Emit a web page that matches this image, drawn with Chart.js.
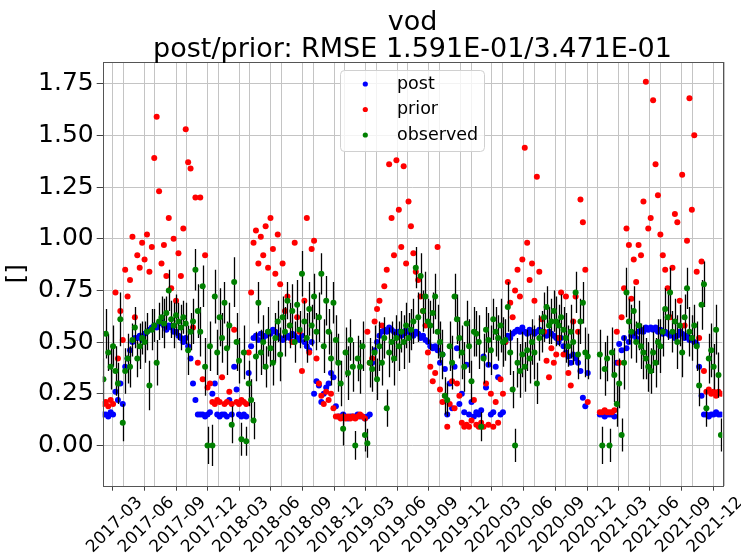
<!DOCTYPE html>
<html>
<head>
<meta charset="utf-8">
<script src="https://cdn.jsdelivr.net/npm/chart.js@4.4.0/dist/chart.umd.min.js"></script>
<style>
  html, body { margin: 0; padding: 0; background: #fff; }
  canvas { display: block; }
</style>
</head>
<body>
<canvas id="chart" width="741" height="558"></canvas>
<script>
// weekly samples, first one on this date
const firstDate = '2017-02-02';
const stepDays = 7;

const post = [
  0.15, 0.15, 0.14, 0.16, 0.15,
  0.26, 0.22, 0.30, 0.20, 0.38, 0.42, 0.46,
  0.50, 0.52, 0.52, 0.53, 0.51, 0.54, 0.55, 0.56, 0.57, 0.58, 0.57, 0.59, 0.60, 0.58, 0.56, 0.58, 0.57, 0.55,
  0.55, 0.53, 0.52, 0.50, 0.52, 0.48,
  0.42, 0.30, 0.22, 0.15,
  0.15, 0.15, 0.14, 0.15, 0.16, 0.25, 0.30, 0.15, 0.14, 0.15, 0.15, 0.14, 0.22, 0.15, 0.38, 0.27, 0.15, 0.14, 0.15, 0.14,
  0.35, 0.48,
  0.52, 0.53, 0.51, 0.54, 0.52, 0.53, 0.55, 0.54, 0.56, 0.55, 0.53, 0.52, 0.51, 0.52, 0.53, 0.52, 0.54, 0.53, 0.52, 0.51, 0.53, 0.50, 0.48, 0.46, 0.50,
  0.25, 0.31, 0.29, 0.21, 0.25, 0.28, 0.30, 0.35, 0.33, 0.19,
  0.14, 0.14, 0.15, 0.14, 0.13, 0.14, 0.14, 0.14, 0.15, 0.14, 0.14, 0.13, 0.14, 0.15,
  0.40, 0.46, 0.50, 0.53, 0.55,
  0.56, 0.55, 0.57, 0.56, 0.55, 0.54, 0.55, 0.53, 0.54, 0.56, 0.55, 0.54, 0.53, 0.55, 0.54, 0.52, 0.53, 0.51, 0.50, 0.48,
  0.47, 0.48, 0.46, 0.40, 0.44, 0.37, 0.15, 0.30, 0.18, 0.38, 0.47, 0.20, 0.25, 0.16, 0.39,
  0.15, 0.21, 0.14, 0.16, 0.15, 0.17, 0.43, 0.28, 0.39, 0.15, 0.16, 0.38, 0.33, 0.15, 0.16,
  0.50, 0.53,
  0.52, 0.54, 0.55, 0.56, 0.55, 0.57, 0.55, 0.54, 0.56, 0.55, 0.54, 0.55, 0.56, 0.55, 0.54, 0.53, 0.55, 0.54, 0.53, 0.52, 0.50, 0.52, 0.48,
  0.45, 0.43, 0.40, 0.44, 0.42, 0.40, 0.36, 0.23, 0.19,
  0.35,
  null, null, null, null,
  0.15, 0.15, 0.14, 0.15, 0.15, 0.15, 0.14,
  0.40, 0.49, 0.46, 0.52,
  0.47, 0.50, 0.53, 0.54, 0.52, 0.55, 0.56, 0.55, 0.57, 0.56, 0.57, 0.56, 0.57, 0.55, 0.56, 0.54,
  0.55, 0.54, 0.53, 0.54, 0.52, 0.53, 0.55, 0.54, 0.52, 0.53, 0.51, 0.52, 0.50,
  0.49, 0.38, 0.24, 0.15, 0.15, 0.14, 0.15, 0.15, 0.16, 0.15, 0.15
];

const prior = [
  0.20, 0.21, 0.19, 0.22, 0.20,
  0.74, 0.42, 0.65, 0.51, 0.85, 0.72, 0.80, 1.01, 0.62, 0.92, 0.86, 0.98, 0.90, 1.02, 0.84, 0.96,
  1.39, 1.59, 1.23, 0.88, 0.97, 0.82, 1.10, 0.76, 1.00, 0.70, 0.93, 0.82, 1.05, 1.53, 1.37, 1.34,
  0.57, 1.20, 0.40, 1.20, 0.32, 0.92, 0.28,
  0.30, 0.21, 0.20, 0.22, 0.21, 0.33, 0.20, 0.21, 0.26, 0.20, 0.56, 0.21, 0.20, 0.22, 0.21, 0.20,
  0.45,
  0.74, 0.98, 1.04, 0.88, 1.01, 0.92, 1.06, 0.86, 1.10, 0.95, 0.83, 1.02, 0.78,
  0.88, 0.65, 0.72, 0.58, 0.50, 0.98, 0.62, 0.55, 0.36, 0.70, 1.10, 0.45, 0.95, 0.99, 0.42, 0.30,
  0.24, 0.20, 0.26, 0.22, 0.25, 0.18, 0.14,
  0.14, 0.13, 0.14, 0.13, 0.14, 0.13, 0.14, 0.13, 0.14, 0.15, 0.14, 0.13,
  0.55, 0.40, 0.42, 0.60, 0.66, 0.70, 0.58, 0.77,
  0.85, 1.36, 1.10, 0.92, 1.38, 1.14, 0.96, 1.35, 0.88,
  1.18, 1.06, 0.93, 0.84, 0.80, 0.72, 0.65, 0.58, 0.45, 0.38,
  0.31, 0.35, 0.96, 0.27, 0.21, 0.24, 0.09, 0.20, 0.31, 0.18, 0.30, 0.24,
  0.11, 0.09, 0.10, 0.09, 0.12, 0.22, 0.10, 0.09, 0.11, 0.09, 0.30, 0.10, 0.25, 0.09, 0.21, 0.11, 0.32, 0.25,
  0.50, 0.79, 0.69, 0.62, 0.75, 0.85, 0.72, 0.90, 1.44, 0.98, 0.80, 0.88, 0.70, 1.30, 0.84, 0.61,
  0.55, 0.41, 0.33, 0.47, 0.40, 0.44, 0.52, 0.74,
  0.44, 0.72, 0.35, 0.29, 0.60, 0.72, 0.55, 1.19, 1.08, 0.85, 0.21,
  null, null, null, null,
  0.16, 0.16, 0.17, 0.16, 0.16, 0.16, 0.17,
  0.55, 0.40, 0.62, 0.76, 1.05, 0.97, 0.71, 0.90, 0.79, 0.97, 0.92, 1.18, 1.76, 1.05, 1.10, 1.67,
  1.36, 1.21, 1.02, 0.92, 0.85, 0.76,
  0.62, 0.86, 1.12, 1.08, 0.70, 1.31, 0.58, 0.99, 1.68, 1.14, 1.50, 0.84, 0.52, 0.89,
  0.36, 0.26, 0.27, 0.25, 0.26, 0.24, 0.26, 0.25
];

const observed = [
  0.32, 0.54, 0.45, 0.38, 0.48,
  0.36, 0.30, 0.61, 0.11, 0.36, 0.42, 0.38, 0.51, 0.57, 0.42, 0.48, 0.52, 0.50, 0.55, 0.29, 0.56,
  0.58, 0.40, 0.60, 0.62, 0.59, 0.64, 0.75, 0.61, 0.58, 0.63, 0.60, 0.57, 0.62, 0.59, 0.46, 0.55,
  0.60, 0.85, 0.65, 0.55, 0.77, 0.38,
  0.00, 0.48, 0.00, 0.72, 0.45, 0.62, 0.52, 0.69, 0.47, 0.58, 0.10, 0.79, 0.50, 0.41, 0.03, 0.45, 0.02,
  0.30, 0.22, 0.12, 0.43, 0.69, 0.45, 0.50, 0.38, 0.55, 0.47, 0.40, 0.52, 0.60, 0.44,
  0.62, 0.55, 0.70, 0.58, 0.65, 0.50, 0.68, 0.56, 0.83, 0.60, 0.52, 0.66, 0.58, 0.72, 0.55, 0.62, 0.83, 0.48,
  0.70, 0.55, 0.42, 0.69, 0.51, 0.40, 0.30, 0.08, 0.45, 0.35, 0.51, 0.38, 0.00,
  0.42, 0.38, 0.48, 0.05, 0.01, 0.40, 0.37, 0.45, 0.32, 0.48, 0.40, 0.52, 0.18,
  0.45, 0.50, 0.42, 0.52, 0.48, 0.55, 0.50, 0.58, 0.52, 0.56, 0.60, 0.86, 0.62, 0.82, 0.65, 0.72, 0.60,
  0.58, 0.64, 0.72, 0.55, 0.50, 0.44, 0.24, 0.22, 0.48, 0.40, 0.72, 0.61, 0.52, 0.45, 0.38, 0.59,
  0.48, 0.31, 0.55, 0.54, 0.50, 0.09, 0.42, 0.56, 0.51, 0.46, 0.61, 0.55, 0.52, 0.58, 0.50, 0.51,
  0.67, 0.45, 0.27, 0.00, 0.40, 0.36, 0.44, 0.38, 0.46, 0.42, 0.50, 0.45, 0.30, 0.52, 0.55, 0.62,
  0.67, 0.58, 0.60, 0.65, 0.60, 0.58, 0.62,
  0.56, 0.52, 0.48, 0.55, 0.50, 0.74, 0.44, 0.60, 0.69, 0.45, 0.43,
  null, null, null, null,
  0.44, 0.00, 0.37, 0.42, 0.00, 0.45, 0.34, 0.20, 0.30, 0.05, 0.40,
  0.74, 0.60, 0.55, 0.65, 0.50, 0.58, 0.48, 0.45, 0.42, 0.38, 0.36, 0.45, 0.40, 0.50, 0.48, 0.55, 0.66,
  0.62, 0.74, 0.55, 0.60, 0.50, 0.58, 0.45, 0.62, 0.76, 0.55, 0.52, 0.58, 0.48,
  0.29, 0.68, 0.78, 0.18, 0.42, 0.46, 0.38, 0.56, 0.34, 0.05
];

// half length of the error bar on each observed value
const obsErr = [
  0.10, 0.12, 0.09, 0.11, 0.10,
  0.12, 0.10, 0.13, 0.09, 0.11, 0.12, 0.10,
  0.08, 0.10, 0.09, 0.11, 0.08, 0.10, 0.09, 0.12, 0.10, 0.08, 0.11, 0.09, 0.10, 0.12, 0.08, 0.10, 0.09, 0.11,
  0.10, 0.09, 0.11, 0.08, 0.10, 0.12, 0.09, 0.11, 0.10, 0.13, 0.12, 0.10, 0.14,
  0.09, 0.12, 0.10, 0.13, 0.11, 0.14, 0.12, 0.10, 0.13, 0.11, 0.09, 0.12, 0.14, 0.11, 0.08, 0.13, 0.07,
  0.11, 0.10, 0.09, 0.12, 0.10, 0.11, 0.13, 0.10, 0.12, 0.09, 0.11, 0.12, 0.10, 0.13,
  0.10, 0.12, 0.09, 0.11, 0.13, 0.10, 0.12, 0.09, 0.11, 0.10, 0.12, 0.13, 0.10, 0.11, 0.09, 0.12, 0.10, 0.13,
  0.12, 0.11, 0.13, 0.10, 0.12, 0.14, 0.11, 0.08, 0.12, 0.13, 0.10, 0.12, 0.07,
  0.11, 0.13, 0.12, 0.08, 0.07, 0.12, 0.11, 0.13, 0.10, 0.12, 0.11, 0.10, 0.09,
  0.12, 0.10, 0.13, 0.11, 0.12, 0.10, 0.13, 0.11, 0.12, 0.10, 0.11, 0.10, 0.12, 0.11, 0.10, 0.12, 0.11,
  0.12, 0.10, 0.11, 0.13, 0.10, 0.12, 0.09, 0.08, 0.12, 0.13, 0.11, 0.12, 0.10, 0.13, 0.12, 0.11,
  0.13, 0.10, 0.12, 0.11, 0.13, 0.07, 0.12, 0.11, 0.13, 0.12, 0.10, 0.12, 0.11, 0.13, 0.12, 0.10,
  0.12, 0.11, 0.09, 0.08, 0.12, 0.13, 0.11, 0.12, 0.10, 0.12, 0.11, 0.13, 0.10, 0.11, 0.10, 0.12,
  0.10, 0.09, 0.11, 0.10, 0.12, 0.10, 0.11,
  0.11, 0.12, 0.10, 0.13, 0.11, 0.10, 0.12, 0.11, 0.10, 0.12, 0.11,
  null, null, null, null,
  0.12, 0.09, 0.13, 0.11, 0.08, 0.12, 0.13, 0.11, 0.12, 0.08, 0.13,
  0.12, 0.11, 0.13, 0.12, 0.10, 0.12, 0.11, 0.13, 0.10, 0.12, 0.11, 0.10, 0.12, 0.11, 0.13, 0.12, 0.10,
  0.11, 0.12, 0.10, 0.11, 0.13, 0.10, 0.12, 0.11, 0.10, 0.12, 0.11, 0.10, 0.12,
  0.10, 0.12, 0.11, 0.09, 0.12, 0.13, 0.11, 0.12, 0.11, 0.08
];

const tickLabels = [
  '2017-03', '2017-06', '2017-09', '2017-12',
  '2018-03', '2018-06', '2018-09', '2018-12',
  '2019-03', '2019-06', '2019-09', '2019-12',
  '2020-03', '2020-06', '2020-09', '2020-12',
  '2021-03', '2021-06', '2021-09', '2021-12'
];
const yTicks = [0, 0.25, 0.5, 0.75, 1.0, 1.25, 1.5, 1.75];
const titleLines = ['vod', 'post/prior: RMSE 1.591E-01/3.471E-01'];

const FONT = "'DejaVu Sans', sans-serif";
Chart.defaults.font.family = FONT;

// days counted from 2017-01-01
const dayOf = (s) => {
  const p = s.split('-').map(Number);
  return Math.round((Date.UTC(p[0], p[1] - 1, p[2] || 1) - Date.UTC(2017, 0, 1)) / 86400000);
};
const x0 = dayOf(firstDate);
const toPoints = (arr) => arr.map((v, i) => ({ x: x0 + i * stepDays, y: v }));

const labelByDay = {};
const gridDays = [];
tickLabels.forEach(t => {
  const d = dayOf(t);
  labelByDay[d] = t;
  gridDays.push(d);
  const [y, m] = t.split('-').map(Number);
  const next = m === 12 ? (y + 1) + '-01' : y + '-' + String(m + 1).padStart(2, '0');
  gridDays.push(dayOf(next));
});

const errorBars = {
  id: 'errorBars',
  beforeDatasetDraw(chart, args) {
    if (chart.data.datasets[args.index].label !== 'observed') return;
    const { ctx, chartArea, scales } = chart;
    ctx.save();
    ctx.beginPath();
    ctx.rect(chartArea.left, chartArea.top, chartArea.right - chartArea.left, chartArea.bottom - chartArea.top);
    ctx.clip();
    ctx.strokeStyle = '#000';
    ctx.lineWidth = 1.3;
    ctx.beginPath();
    observed.forEach((v, i) => {
      if (v === null) return;
      const px = Math.round(scales.x.getPixelForValue(x0 + i * stepDays)) + 0.5;
      ctx.moveTo(px, scales.y.getPixelForValue(v + obsErr[i]));
      ctx.lineTo(px, scales.y.getPixelForValue(v - obsErr[i]));
    });
    ctx.stroke();
    ctx.restore();
  }
};

const frameAndText = {
  id: 'frameAndText',
  afterDatasetsDraw(chart) {
    const { ctx, chartArea: a } = chart;
    ctx.save();
    ctx.strokeStyle = '#555';
    ctx.lineWidth = 1;
    ctx.strokeRect(Math.round(a.left) + 0.5, Math.round(a.top) + 0.5,
      Math.round(a.right - a.left), Math.round(a.bottom - a.top));
    ctx.restore();
  },
  afterDraw(chart) {
    const { ctx, chartArea: a } = chart;
    ctx.save();
    // title
    ctx.fillStyle = '#000';
    ctx.textAlign = 'center';
    ctx.textBaseline = 'alphabetic';
    ctx.font = '27px ' + FONT;
    const cx = (a.left + a.right) / 2;
    ctx.fillText(titleLines[0], cx, 30);
    ctx.fillText(titleLines[1], cx, 57);

    // legend
    const bx = 340.5, by = 70.5, bw = 144, bh = 81;
    ctx.beginPath();
    ctx.roundRect(bx, by, bw, bh, 4);
    ctx.fillStyle = 'rgba(255,255,255,0.8)';
    ctx.fill();
    ctx.strokeStyle = '#d0d0d0';
    ctx.lineWidth = 1;
    ctx.stroke();
    const items = chart.data.datasets.slice().reverse();
    ctx.font = '17.5px ' + FONT;
    ctx.textAlign = 'left';
    ctx.textBaseline = 'middle';
    items.forEach((ds, i) => {
      const y = 84 + i * 25.5;
      ctx.beginPath();
      ctx.arc(365.3, y, 2.6, 0, Math.PI * 2);
      ctx.fillStyle = ds.backgroundColor;
      ctx.fill();
      ctx.fillStyle = '#000';
      ctx.fillText(ds.label, 397, y);
    });
    ctx.restore();
  }
};

new Chart(document.getElementById('chart'), {
  type: 'scatter',
  data: {
    datasets: [
      { label: 'observed', data: toPoints(observed), backgroundColor: '#008000', order: 0 },
      { label: 'prior', data: toPoints(prior), backgroundColor: '#ff0000', order: 1 },
      { label: 'post', data: toPoints(post), backgroundColor: '#0000ff', order: 2 }
    ]
  },
  options: {
    responsive: false,
    animation: false,
    devicePixelRatio: 1,
    layout: { padding: { top: 62, right: 18.7, left: 0, bottom: 0 } },
    elements: { point: { radius: 3, hoverRadius: 3, borderWidth: 0 } },
    plugins: {
      legend: { display: false },
      title: { display: false },
      tooltip: { enabled: false }
    },
    scales: {
      x: {
        type: 'linear',
        min: 30,
        max: 1821,
        afterBuildTicks: axis => { axis.ticks = gridDays.map(v => ({ value: v })); },
        afterFit: axis => { axis.height = 72.3; axis.paddingLeft = 0; axis.paddingRight = 0; },
        ticks: {
          autoSkip: false,
          minRotation: 45,
          maxRotation: 45,
          labelOffset: 27,
          padding: 2,
          color: '#000',
          font: { size: 17 },
          callback: v => labelByDay[v] || ''
        },
        grid: {
          color: '#c4c4c4',
          lineWidth: 1,
          tickLength: 5,
          tickColor: c => (c.tick && labelByDay[c.tick.value]) ? '#444' : 'rgba(0,0,0,0)'
        },
        border: { display: false }
      },
      y: {
        min: -0.195,
        max: 1.855,
        afterBuildTicks: axis => { axis.ticks = yTicks.map(v => ({ value: v })); },
        afterFit: axis => { axis.width = 102.7; axis.paddingTop = 0; axis.paddingBottom = 0; },
        ticks: { color: '#000', font: { size: 25 }, padding: 3, callback: v => v.toFixed(2) },
        grid: { color: '#c4c4c4', lineWidth: 1, tickLength: 6, tickColor: '#444' },
        border: { display: false },
        title: { display: true, text: '[]', color: '#000', font: { size: 25 }, padding: { top: 2, bottom: 0 } }
      }
    }
  },
  plugins: [errorBars, frameAndText]
});
</script>
</body>
</html>
